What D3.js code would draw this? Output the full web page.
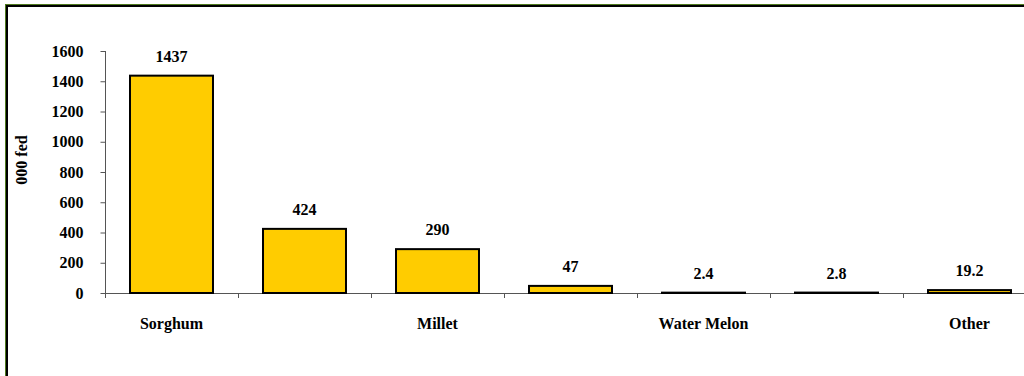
<!DOCTYPE html>
<html>
<head>
<meta charset="utf-8">
<script src="https://cdn.jsdelivr.net/npm/d3@7"></script>
<style>
  html, body { margin: 0; padding: 0; background: #fff; }
  svg { display: block; }
  text { font-family: "Liberation Serif", "Times New Roman", serif; font-weight: bold; fill: #000; }
</style>
</head>
<body>
<svg id="chart" width="1024" height="376"></svg>
<script>
// Area planted by crop, thousand feddans
const categories = ["Sorghum", "", "Millet", "", "Water Melon", "", "Other"];
const values = [1437, 424, 290, 47, 2.4, 2.8, 19.2];
const valueLabels = ["1437", "424", "290", "47", "2.4", "2.8", "19.2"];
const yTicks = [0, 200, 400, 600, 800, 1000, 1200, 1400, 1600];
const yTitle = "000 fed";

const svg = d3.select("#chart");
const fontSize = "16px";
const fontFamily = "'Liberation Serif', 'Times New Roman', serif";

// outer frame: thin green edge with a black inner line
svg.append("rect").attr("x", 5.5).attr("y", 4.5).attr("width", 1040).attr("height", 400)
  .attr("fill", "none").attr("stroke", "#4f7a1f").attr("stroke-width", 1);
svg.append("rect").attr("x", 7).attr("y", 6).attr("width", 1040).attr("height", 400)
  .attr("fill", "none").attr("stroke", "#000").attr("stroke-width", 2);

const left = 105, zeroY = 293, topY = 51;
const plotRight = left + 133 * categories.length;

const x = d3.scaleBand()
  .domain(d3.range(categories.length))
  .range([left, plotRight])
  .paddingInner(0.376)
  .paddingOuter(0.188);

const y = d3.scaleLinear().domain([0, 1600]).range([zeroY, topY]);

const axisColor = "#555";

// y axis
const yAxis = svg.append("g").attr("transform", `translate(${left + 0.5},0)`)
  .call(d3.axisLeft(y).tickValues(yTicks).tickFormat(d3.format("d"))
    .tickSize(5).tickPadding(17).tickSizeOuter(0));
yAxis.select(".domain").attr("stroke", axisColor).attr("d", `M0,${topY}V${zeroY + 5}`);
yAxis.selectAll(".tick line").attr("stroke", axisColor);
yAxis.selectAll(".tick text")
  .style("font-size", fontSize).style("font-family", fontFamily)
  .style("font-weight", "bold").attr("fill", "#000");

// x axis line with ticks at band boundaries
svg.append("line").attr("x1", left).attr("x2", 1024)
  .attr("y1", zeroY + 0.5).attr("y2", zeroY + 0.5)
  .attr("stroke", axisColor).attr("stroke-width", 1);
const step = x.step();
svg.selectAll("line.xtick").data(d3.range(1, categories.length)).join("line")
  .attr("class", "xtick")
  .attr("x1", i => Math.round(left + i * step) + 0.5)
  .attr("x2", i => Math.round(left + i * step) + 0.5)
  .attr("y1", zeroY).attr("y2", zeroY + 5)
  .attr("stroke", axisColor);

// bars
svg.selectAll("rect.bar").data(values).join("rect")
  .attr("class", "bar")
  .attr("x", (d, i) => x(i))
  .attr("width", x.bandwidth())
  .attr("y", d => y(d))
  .attr("height", d => Math.max(0, zeroY - y(d)))
  .attr("fill", "#FFCC00")
  .attr("stroke", "#000")
  .attr("stroke-width", 2);

// value labels
svg.selectAll("text.val").data(values).join("text")
  .attr("class", "val")
  .attr("x", (d, i) => x(i) + x.bandwidth() / 2)
  .attr("y", d => y(d) - 14)
  .attr("text-anchor", "middle")
  .style("font-size", fontSize)
  .text((d, i) => valueLabels[i]);

// category labels
svg.selectAll("text.cat").data(categories).join("text")
  .attr("class", "cat")
  .attr("x", (d, i) => x(i) + x.bandwidth() / 2)
  .attr("y", 329)
  .attr("text-anchor", "middle")
  .style("font-size", fontSize)
  .text(d => d);

// y axis title
svg.append("text")
  .attr("transform", `translate(27,160) rotate(-90)`)
  .attr("text-anchor", "middle")
  .style("font-size", fontSize)
  .text(yTitle);
</script>
</body>
</html>
